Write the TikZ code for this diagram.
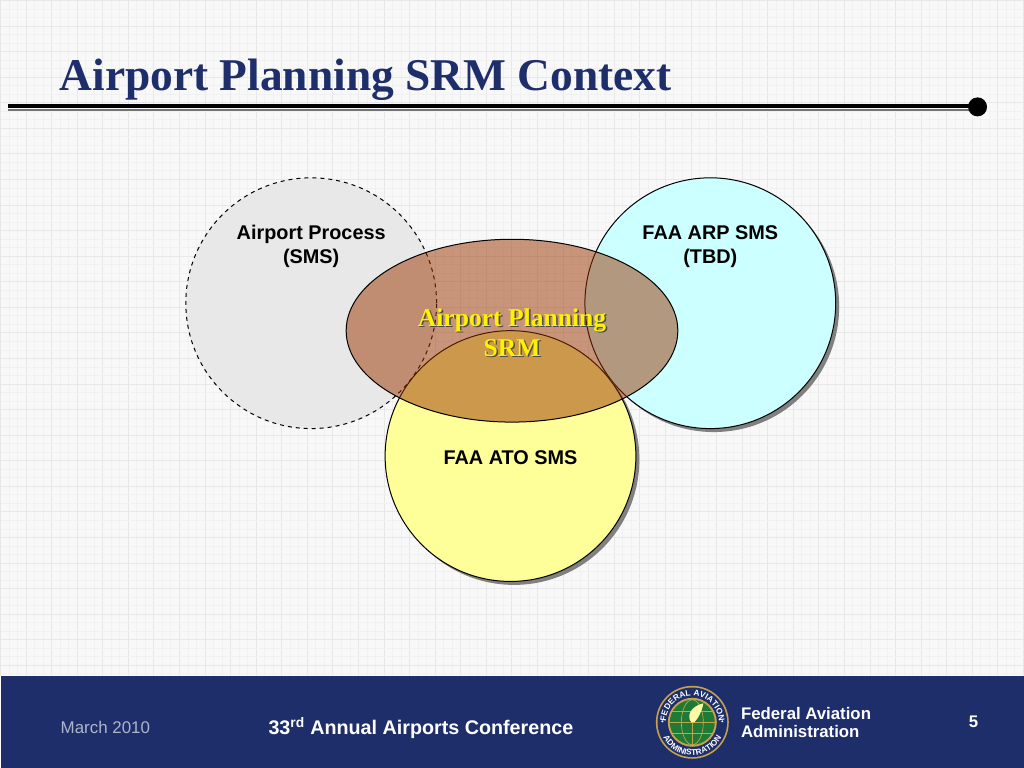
\documentclass[tikz,border=0pt]{standalone}
\usepackage{fontspec}
\setmainfont{Liberation Serif}
\setsansfont{Liberation Sans}
\usepackage{xcolor}
\usetikzlibrary{shadows,shapes.geometric,decorations.text}
\definecolor{navy}{HTML}{1E2E6B}
\definecolor{pagebg}{HTML}{F8F8F8}
\definecolor{gridminor}{HTML}{F1F1F1}
\definecolor{gridmajor}{HTML}{E8E8E8}
\definecolor{sealgold}{HTML}{C8A24A}
\definecolor{sealgreen}{HTML}{1F7A35}
\definecolor{datecol}{HTML}{AEB5CC}
\tikzstyle{venn}=[circle, draw, line width=0.75pt, inner sep=0pt, outer sep=0pt, minimum size=188.25pt]
\tikzstyle{vennshadow}=[venn, drop shadow={shadow xshift=2.6pt, shadow yshift=-2.6pt, fill=black!50, opacity=1}]
\tikzstyle{srm}=[ellipse, draw=black, line width=0.75pt, fill={rgb,255:red,153;green,51;blue,0}, fill opacity=0.5,
  inner sep=0pt, outer sep=0pt, minimum width=249pt, minimum height=137.25pt]
\tikzstyle{circletext}=[font=\sffamily\bfseries\fontsize{14.9}{18}\selectfont, align=center, text=black]
\tikzstyle{foot}=[font=\sffamily\bfseries\fontsize{13.5}{13.5}\selectfont, text=white, inner sep=0pt, anchor=base west]
\newcommand{\venn}[3]{node (p#1)[#2]{#3}}
\newcommand{\shadowtext}[1]{\makebox[0pt][l]{\raisebox{-1.2pt}{\hspace{1.2pt}\textcolor{black!70}{#1}}}\textcolor{yellow}{#1}}
\newcommand{\sealfont}{\sffamily\bfseries\fontsize{6.2}{6.2}\selectfont\color{white}}

\begin{document}
\begin{tikzpicture}[x=0.75pt,y=-0.75pt]
	
	% Background grid
	\fill[pagebg] (0,0) rectangle (1024,768);
	\foreach \i in {0,...,120} {
		\pgfmathtruncatemacro{\k}{mod(\i,3)}
		\ifnum\k=0 \def\gridcol{gridmajor}\else\def\gridcol{gridminor}\fi
		\draw[\gridcol, line width=0.75pt] (\i*8.533,0) -- (\i*8.533,676);
	}
	\foreach \i in {0,...,79} {
		\pgfmathtruncatemacro{\k}{mod(\i,3)}
		\ifnum\k=0 \def\gridcol{gridmajor}\else\def\gridcol{gridminor}\fi
		\draw[\gridcol, line width=0.75pt] (0,\i*8.533) -- (1024,\i*8.533);
	}
	\useasboundingbox (0,0) rectangle (1024,768);
	
	% Title and rule
	\node (title) [anchor=base west, inner sep=0pt, text=navy, font=\bfseries\fontsize{34.1}{34.1}\selectfont] at (59,90) {Airport Planning SRM Context};
	\fill[black] (8,103.3) rectangle (970,107.8);
	\fill[black!55] (8,108.8) rectangle (970,110.2);
	\fill[black] (978,106.5) circle (9.5*0.75pt);
	
	% Draw diagram elements
	\path (311,303) \venn{1}{venn, dashed, fill=black!9}{};
	\path (710.5,303) \venn{2}{vennshadow, fill={rgb,255:red,204;green,255;blue,255}}{};
	\path (510.5,456) \venn{3}{vennshadow, fill={rgb,255:red,255;green,255;blue,153}}{};
	\path (p1.center)+(0,-57) node (t1)[circletext]{Airport Process\\(SMS)};
	\path (p2.center)+(0,-57) node (t2)[circletext]{FAA ARP SMS\\(TBD)};
	\path (p3.center)+(0,1.5) node (t3)[circletext]{FAA ATO SMS};
	\path (512,330.5) \venn{4}{srm}{};
	\path (p4.center)+(0,2.5) node (t4)[align=center, font=\bfseries\fontsize{19.2}{22.5}\selectfont]{\shadowtext{Airport Planning}\\\shadowtext{SRM}};
	
	% Footer
	\fill[navy] (0,676) rectangle (1024,768);
	\node (date) [foot, font=\sffamily\fontsize{12.7}{12.7}\selectfont, text=datecol] at (60,734) {March 2010};
	\node (conf) [foot, font=\sffamily\bfseries\fontsize{14.8}{14.8}\selectfont] at (268,734.5) {33\textsuperscript{rd} Annual Airports Conference};
	\node (faa1) [foot, font=\sffamily\bfseries\fontsize{12.6}{12.6}\selectfont] at (741,720) {Federal Aviation};
	\node (faa2) [foot, font=\sffamily\bfseries\fontsize{12.6}{12.6}\selectfont] at (741,737.5) {Administration};
	\node (page) [foot, font=\sffamily\bfseries\fontsize{12.6}{12.6}\selectfont] at (969,728) {5};
	
	% Seal
	\begin{scope}[shift={(692.5,722.5)},x=0.75pt,y=0.75pt]
		\fill[sealgold] (0,0) circle (36.5);
		\fill[navy] (0,0) circle (34.8);
		\fill[sealgold] (0,0) circle (24.5);
		\fill[sealgreen] (0,0) circle (22.5);
		\draw[sealgold, line width=0.5pt] (0,0) ellipse (11 and 22.5);
		\draw[sealgold, line width=0.5pt] (-20,11) -- (20,11) (-20,-11) -- (20,-11);
		\draw[sealgold, line width=1.1pt] (-22.5,0) -- (22.5,0) (0,-22.5) -- (0,8);
		\fill[yellow!35!white] (-1,0) .. controls (-6,6) and (-2,16) .. (11,19) .. controls (10,12) and (6,4) .. (2,0) -- cycle;
		\path[decorate, decoration={text along path, text align=center, text={|\sealfont|FEDERAL AVIATION}}] (172:26.5) arc (172:8:26.5);
		\path[decorate, decoration={text along path, text align=center, text={|\sealfont|ADMINISTRATION}}] (195:33) arc (195:345:33);
		\fill[white] (30,1) circle (1.1) (-30,1) circle (1.1);
	\end{scope}
	
\end{tikzpicture}
\end{document}
